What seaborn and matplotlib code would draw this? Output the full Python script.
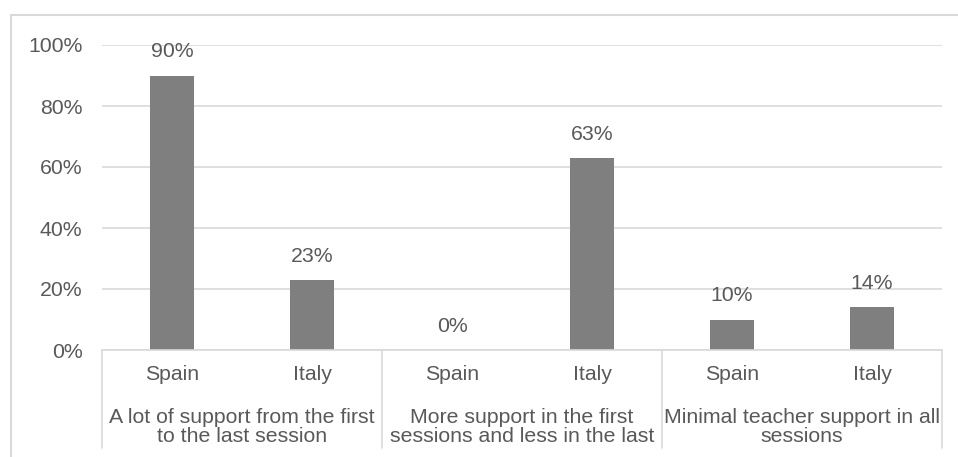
import matplotlib
matplotlib.use("Agg")
import matplotlib.pyplot as plt
import seaborn as sns
import pandas as pd
from matplotlib.lines import Line2D
import matplotlib.transforms as mtransforms

countries = ["Spain", "Italy", "Spain", "Italy", "Spain", "Italy"]
groups = ["A lot of support from the first\nto the last session",
          "More support in the first\nsessions and less in the last",
          "Minimal teacher support in all\nsessions"]
values = [90, 23, 0, 63, 10, 14]
yticks = [0, 20, 40, 60, 80, 100]

sns.set_theme(style="white")
plt.rcParams['font.family'] = ['Liberation Sans', 'DejaVu Sans']

W, H = 958, 457
FS = 15.3
fig = plt.figure(figsize=(W / 100, H / 100), dpi=100)
ax = fig.add_axes([102 / W, (H - 350) / H, 840 / W, 305 / H])

slots = [f"c{i}" for i in range(len(values))]
df = pd.DataFrame({"slot": slots, "value": values})
sns.barplot(data=df, x="slot", y="value", order=slots, color="#7f7f7f",
            saturation=1, width=0.31, ax=ax, linewidth=0)

txt = "#595959"
grid = "#d9d9d9"
ax.set_ylim(0, 100)
ax.set_xlim(-0.5, len(values) - 0.5)
ax.set_yticks(yticks)
ax.set_yticklabels([f"{v}%" for v in yticks], color=txt, fontsize=FS)
ax.tick_params(axis="y", length=0, pad=14)
ax.set_xticks([])
ax.set_xlabel("")
ax.set_ylabel("")
for v in yticks:
    ax.axhline(v, color=grid, lw=1.2, zorder=0)
for s in ["top", "right", "left"]:
    ax.spines[s].set_visible(False)
ax.spines["bottom"].set_color(grid)
ax.spines["bottom"].set_linewidth(1.2)

for p, v in zip(ax.patches, values):
    ax.annotate(f"{v}%", (p.get_x() + p.get_width() / 2, v),
                xytext=(0, 17), textcoords="offset points",
                ha="center", va="center", color=txt, fontsize=FS)

# multi-level category axis
trans = mtransforms.blended_transform_factory(ax.transData, fig.transFigure)
for i, c in enumerate(countries):
    ax.text(i, 1 - 375 / H, c, transform=trans, ha="center", va="center",
            color=txt, fontsize=FS)
for g, name in enumerate(groups):
    ax.text(2 * g + 0.5, 1 - 427 / H, name, transform=trans, ha="center",
            va="center", color=txt, fontsize=FS, linespacing=1.05)
for b in [-0.5, 1.5, 3.5, 5.5]:
    ax.add_line(Line2D([b, b], [1 - 350 / H, 1 - 448 / H], transform=trans,
                       color=grid, lw=1.2, clip_on=False))

# outer chart border (top and left visible)
fig.add_artist(Line2D([11 / W, 1.01], [1 - 15 / H, 1 - 15 / H],
                      transform=fig.transFigure, color=grid, lw=1.5))
fig.add_artist(Line2D([11 / W, 11 / W], [1 - 15 / H, -0.01],
                      transform=fig.transFigure, color=grid, lw=1.5))

fig.savefig("out.png", dpi=100)
